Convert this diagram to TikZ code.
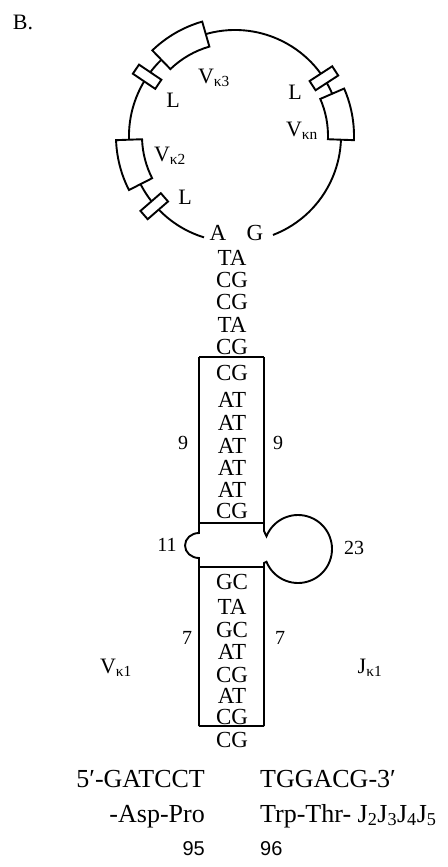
\documentclass[tikz,border=0pt]{standalone}
\usepackage{fontspec}
\setmainfont{Liberation Serif}
\setsansfont{Liberation Sans}
\usetikzlibrary{calc}
\begin{document}
\begin{tikzpicture}[x=1pt,y=-1pt,
  ln/.style={line width=1.9pt},
  bp/.style={inner sep=0pt, font=\fontsize{23}{23}\selectfont},
  lbl/.style={inner sep=0pt, font=\fontsize{22}{22}\selectfont},
  numl/.style={inner sep=0pt, font=\fontsize{20}{20}\selectfont},
  seq/.style={inner sep=0pt, font=\fontsize{26}{26}\selectfont},
  num/.style={inner sep=0pt, font=\sffamily\fontsize{20}{20}\selectfont},
  lbox/.style={draw, line width=1.9pt, fill=white, minimum width=27pt, minimum height=11pt, inner sep=0pt},
]
\useasboundingbox (0,0) rectangle (447,867);
\fill[white] (0,0) rectangle (447,867);
% ---- circle with genes ----
\coordinate (O) at (235,136);
\draw[ln] ($(O)+(-69:106pt)$) arc[start angle=-69,end angle=253,radius=106pt];
\foreach \a/\b in {-2/23.5, 106/134, 182/207}{
  \filldraw[ln, fill=white] ($(O)+(\a:93pt)$) arc[start angle=\a,end angle=\b,radius=93pt]
    -- ($(O)+(\b:119pt)$) arc[start angle=\b,end angle=\a,radius=119pt] -- cycle;
}
\node[lbox, rotate=33] (Lbn) at ($(O)+(33:106pt)$) {};
\node[lbox, rotate=146] (Lb3) at ($(O)+(146:106pt)$) {};
\node[lbox, rotate=221] (Lb2) at ($(O)+(221:107pt)$) {};
% labels on circle
\node[lbl] (B) at (23,22) {B.};
\node[lbl] (V3) at (214,78) {V\textsubscript{κ3}};
\node[lbl] (L3) at (173,100) {L};
\node[lbl] (Ln) at (295,92) {L};
\node[lbl] (Vn) at (302,131) {V\textsubscript{κn}};
\node[lbl] (V2) at (170,156) {V\textsubscript{κ2}};
\node[lbl] (L2) at (185,197) {L};
\node[bp] (nA) at (218,233) {A};
\node[bp] (nG) at (255,233) {G};
% ---- stem ----
\foreach \t/\y [count=\i] in {TA/258, CG/280, CG/302, TA/325, CG/347,
   CG/373, AT/400, AT/423, AT/446, AT/468, AT/490, CG/511,
   GC/582, TA/607, GC/630, AT/652, CG/675, AT/696, CG/717, CG/740}{
  \node[bp] (bp\i) at (232,\y) {\t};
}
% upper box
\draw[ln] (199,357) -- (264,357);
\draw[ln] (199,523) -- (264,523);
% lower box
\draw[ln] (199,567) -- (264,567);
\draw[ln] (199,726) -- (264,726);
% left side with 11 bulge
\draw[ln] (199,357) -- (199,533)
  arc[start angle=90,end angle=270,x radius=14pt,y radius=12.5pt]
  -- (199,726);
% right side with 23 loop
\coordinate (C) at (298,549);
\draw[ln] (264,357) -- (264,531) -- ($(C)+(158:34pt)$)
  arc[start angle=158,end angle=-158,radius=34pt]
  -- (264,563) -- (264,726);
% numbers
\node[numl] (n9l) at (183,443) {9};
\node[numl] (n9r) at (278,443) {9};
\node[numl] (n11) at (167,545) {11};
\node[numl] (n23) at (354,548) {23};
\node[numl] (n7l) at (187,638) {7};
\node[numl] (n7r) at (280,638) {7};
\node[lbl] (Vk1) at (116,668) {V\textsubscript{κ1}};
\node[lbl] (Jk1) at (370,668) {J\textsubscript{κ1}};
% ---- bottom sequence ----
\node[seq, anchor=base east] (s5) at (205,787) {5′-GATCCT};
\node[seq, anchor=base west] (s3) at (260,787) {TGGACG-3′};
\node[seq, anchor=base east] (aa1) at (205,822) {-Asp-Pro};
\node[seq, anchor=base west] (aa2) at (260,822) {Trp-Thr- J\textsubscript{2}J\textsubscript{3}J\textsubscript{4}J\textsubscript{5}};
\node[num, anchor=base east] (p95) at (205,855) {95};
\node[num, anchor=base west] (p96) at (260,855) {96};
\end{tikzpicture}
\end{document}
